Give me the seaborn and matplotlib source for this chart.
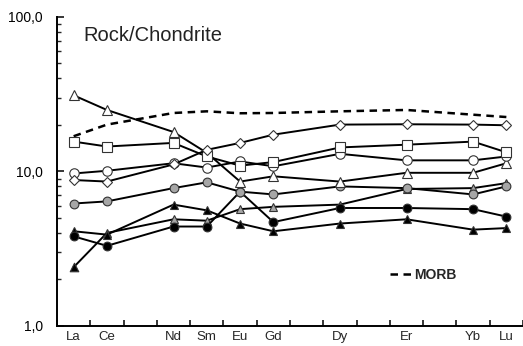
import numpy as np
import pandas as pd
import matplotlib
matplotlib.use('Agg')
import matplotlib.pyplot as plt
import seaborn as sns
from matplotlib.ticker import FixedLocator, NullFormatter, LogLocator

# REE slots on the category axis (Pm skipped), labels only where data exist
slots = ['La', 'Ce', 'Pr', 'Nd', 'Sm', 'Eu', 'Gd', 'Tb', 'Dy', 'Ho', 'Er', 'Tm', 'Yb', 'Lu']
slot_labels = ['La', 'Ce', '', 'Nd', 'Sm', 'Eu', 'Gd', '', 'Dy', '', 'Er', '', 'Yb', 'Lu']
elements = ['La', 'Ce', 'Nd', 'Sm', 'Eu', 'Gd', 'Dy', 'Er', 'Yb', 'Lu']

morb = [16.9, 20.1, 23.9, 24.5, 23.8, 23.9, 24.5, 25.0, 23.3, 22.5]
open_tri = [31.1, 25.0, 18.0, 13.2, 8.6, 9.3, 8.6, 9.8, 9.8, 11.3]
square = [15.6, 14.5, 15.3, 12.5, 10.9, 11.5, 14.3, 14.9, 15.6, 13.3]
diamond = [8.8, 8.6, 11.1, 13.8, 15.3, 17.3, 20.1, 20.2, 20.1, 19.9]
open_circle = [9.7, 10.1, 11.3, 10.6, 11.6, 10.8, 13.0, 11.8, 11.8, 12.5]
gray_circle = [6.2, 6.4, 7.8, 8.5, 7.4, 7.1, 8.0, 7.8, 7.1, 8.0]
gray_tri = [2.4, 4.0, 4.9, 4.8, 5.7, 5.9, 6.1, 7.7, 7.8, 8.4]
black_tri = [4.1, 3.9, 6.1, 5.6, 4.6, 4.1, 4.6, 4.9, 4.2, 4.3]
black_circle = [3.8, 3.3, 4.4, 4.4, 7.4, 4.7, 5.8, 5.8, 5.7, 5.1]

series = [
    # values, marker, face colour, size
    (gray_tri, '^', '#a6a6a6', 6),
    (black_tri, '^', 'black', 6),
    (black_circle, 'o', 'black', 6.3),
    (gray_circle, 'o', '#a6a6a6', 6.3),
    (open_tri, '^', 'white', 7),
    (open_circle, 'o', 'white', 6.8),
    (square, 's', 'white', 6.8),
    (diamond, 'D', 'white', 4.8),
]

xpos = [slots.index(e) + 0.5 for e in elements]

sns.set_style('ticks')
plt.rcParams['font.family'] = ['Liberation Sans', 'DejaVu Sans']

fig = plt.figure(figsize=(5.23, 3.46), dpi=100)
ax = fig.add_axes([0.109, 0.058, 0.891, 0.893])

df_morb = pd.DataFrame({'x': xpos, 'y': morb})
sns.lineplot(data=df_morb, x='x', y='y', ax=ax, color='black', lw=1.8,
             linestyle=(0, (3.0, 2.2)), label='MORB', zorder=2)

for vals, mk, fc, ms in series:
    df = pd.DataFrame({'x': xpos, 'y': vals})
    sns.lineplot(data=df, x='x', y='y', ax=ax, color='black', lw=1.4,
                 marker=mk, markersize=ms, markerfacecolor=fc,
                 markeredgecolor='#333333', markeredgewidth=0.8,
                 legend=False, zorder=3)

# the low La point of the grey-triangle series is drawn black in the original
ax.lines[1].set_markevery([1, 2, 3, 4, 5, 6, 7, 8, 9])
df_first = pd.DataFrame({'x': xpos[:1], 'y': gray_tri[:1]})
sns.scatterplot(data=df_first, x='x', y='y', ax=ax, marker='^', s=38,
                color='black', edgecolor='#333333', linewidth=0.8, zorder=4)

ax.set_yscale('log')
ax.set_ylim(1, 100)
ax.set_xlim(0, 14)
ax.set_yticks([1, 10, 100])
ax.set_yticklabels(['1,0', '10,0', '100,0'], fontsize=10)
ax.yaxis.set_minor_locator(LogLocator(base=10, subs=np.arange(2, 10)))
ax.yaxis.set_minor_formatter(NullFormatter())

ax.xaxis.set_major_locator(FixedLocator(np.arange(0, 15)))
ax.xaxis.set_major_formatter(NullFormatter())
ax.xaxis.set_minor_locator(FixedLocator(np.arange(14) + 0.5))
ax.set_xticklabels(slot_labels, minor=True, fontsize=9.5)

ax.tick_params(axis='both', which='major', direction='in', length=4, width=1.1, colors='black')
ax.tick_params(axis='y', which='minor', direction='in', length=3, width=1.0)
ax.tick_params(axis='x', which='minor', length=0, pad=4)
ax.tick_params(axis='y', which='major', pad=10, labelsize=10, length=5)

ax.set_xlabel('')
ax.set_ylabel('')
for s in ['top', 'right']:
    ax.spines[s].set_visible(False)
for s in ['left', 'bottom']:
    ax.spines[s].set_linewidth(1.4)
    ax.spines[s].set_color('black')

ax.text(0.056, 0.94, 'Rock/Chondrite', transform=ax.transAxes,
        fontsize=14.5, va='center', ha='left', color='#222222')

leg = ax.legend(loc='center left', bbox_to_anchor=(0.715, 0.165), frameon=False,
                handlelength=1.6, handletextpad=0.15, borderpad=0, borderaxespad=0,
                prop={'weight': 'bold', 'size': 10})

fig.savefig('out.png', dpi=100)
